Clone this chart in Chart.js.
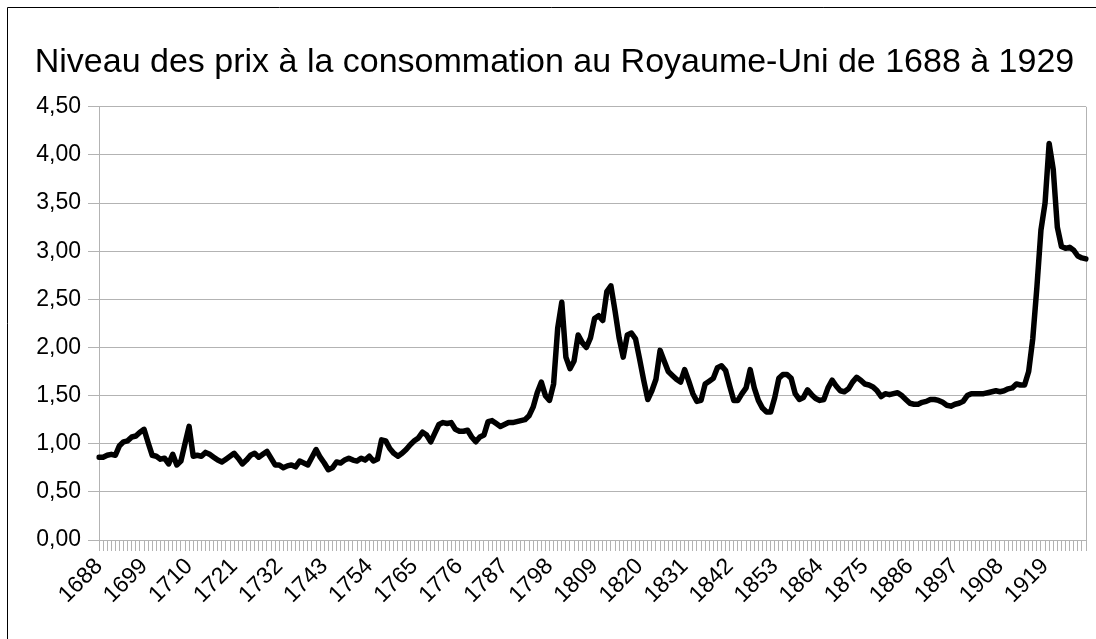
<!DOCTYPE html>
<html>
<head>
<meta charset="utf-8">
<script src="https://cdn.jsdelivr.net/npm/chart.js@4.4.1/dist/chart.umd.min.js"></script>
<style>
  html, body { margin: 0; padding: 0; background: #fff; }
  canvas { display: block; }
</style>
</head>
<body>
<canvas id="cpi" width="1096" height="639"></canvas>
<script>
var firstYear = 1688;
var lastYear = 1929;
var years = [];
for (var y = firstYear; y <= lastYear; y++) years.push(String(y));

// indice des prix (1688 -> 1929)
var prix = [
    0.86, 0.86, 0.88, 0.89, 0.88, 0.98, 1.02, 1.03, 1.07, 1.08, 1.12, 1.15,
    1.01, 0.88, 0.87, 0.84, 0.85, 0.79, 0.89, 0.78, 0.82, 1.00, 1.18, 0.87,
    0.88, 0.87, 0.91, 0.89, 0.86, 0.83, 0.81, 0.84, 0.87, 0.90, 0.85, 0.79,
    0.83, 0.88, 0.90, 0.86, 0.89, 0.92, 0.85, 0.78, 0.78, 0.75, 0.77, 0.78,
    0.76, 0.82, 0.80, 0.78, 0.86, 0.94, 0.86, 0.80, 0.73, 0.75, 0.81, 0.80,
    0.83, 0.85, 0.83, 0.82, 0.85, 0.83, 0.87, 0.82, 0.84, 1.04, 1.03, 0.95,
    0.90, 0.87, 0.90, 0.94, 0.99, 1.03, 1.06, 1.12, 1.09, 1.02, 1.11, 1.20,
    1.22, 1.21, 1.22, 1.15, 1.13, 1.13, 1.14, 1.07, 1.02, 1.07, 1.09, 1.23,
    1.24, 1.21, 1.18, 1.20, 1.22, 1.22, 1.23, 1.24, 1.25, 1.29, 1.38, 1.53,
    1.64, 1.50, 1.45, 1.62, 2.20, 2.47, 1.90, 1.78, 1.86, 2.13, 2.05, 2.00,
    2.10, 2.30, 2.33, 2.28, 2.58, 2.64, 2.38, 2.10, 1.90, 2.13, 2.15, 2.09,
    1.88, 1.66, 1.46, 1.55, 1.67, 1.97, 1.86, 1.75, 1.71, 1.67, 1.64, 1.77,
    1.65, 1.52, 1.44, 1.45, 1.62, 1.65, 1.68, 1.79, 1.81, 1.76, 1.60, 1.45,
    1.45, 1.52, 1.58, 1.77, 1.58, 1.45, 1.37, 1.33, 1.33, 1.48, 1.68, 1.72,
    1.72, 1.68, 1.52, 1.46, 1.48, 1.56, 1.51, 1.47, 1.45, 1.46, 1.58, 1.66,
    1.60, 1.55, 1.54, 1.57, 1.64, 1.69, 1.66, 1.62, 1.61, 1.59, 1.55, 1.49,
    1.52, 1.51, 1.52, 1.53, 1.50, 1.46, 1.42, 1.41, 1.41, 1.43, 1.44, 1.46,
    1.46, 1.45, 1.43, 1.40, 1.39, 1.41, 1.42, 1.44, 1.50, 1.52, 1.52, 1.52,
    1.52, 1.53, 1.54, 1.55, 1.54, 1.55, 1.57, 1.58, 1.62, 1.61, 1.61, 1.75,
    2.09, 2.62, 3.22, 3.50, 4.12, 3.85, 3.25, 3.05, 3.03, 3.04, 3.01, 2.95,
    2.93, 2.92
];

var labelEvery = 11;
var yMin = 0, yMax = 4.5, yStep = 0.5;

var grille = '#b3b3b3';
var police = 'Liberation Sans, Arial, sans-serif';

// fond blanc, cadre et bord droit de la zone de tracé
var decor = {
    id: 'decor',
    beforeDraw: function(chart) {
        var c = chart.ctx;
        c.save();
        c.fillStyle = '#fff';
        c.fillRect(0, 0, chart.width, chart.height);
        c.strokeStyle = '#000';
        c.lineWidth = 1;
        c.beginPath();
        c.moveTo(7.5, chart.height);
        c.lineTo(7.5, 7.5);
        c.lineTo(chart.width, 7.5);
        c.stroke();
        c.restore();
    },
    beforeDatasetsDraw: function(chart) {
        var a = chart.chartArea, c = chart.ctx;
        c.save();
        c.strokeStyle = grille;
        c.lineWidth = 1;
        c.beginPath();
        c.moveTo(Math.round(a.right) + 0.5, a.top);
        c.lineTo(Math.round(a.right) + 0.5, a.bottom);
        c.stroke();
        c.restore();
    }
};

var ctx = document.getElementById('cpi').getContext('2d');
var chart = new Chart(ctx, {
    type: 'line',
    data: {
        labels: years,
        datasets: [{
            data: prix,
            borderColor: '#000',
            borderWidth: 5.5,
            borderJoinStyle: 'round',
            borderCapStyle: 'round',
            pointRadius: 0,
            tension: 0,
            fill: false
        }]
    },
    options: {
        responsive: false,
        animation: false,
        devicePixelRatio: 1,
        layout: { padding: { left: 23, right: 10, top: 0, bottom: 0 } },
        plugins: {
            legend: { display: false },
            tooltip: { enabled: false },
            title: {
                display: true,
                text: 'Niveau des prix à la consommation au Royaume-Uni de 1688 à 1929',
                color: '#000',
                font: { family: police, size: 34, weight: 'normal' },
                padding: { top: 42, bottom: 24 }
            }
        },
        scales: {
            x: {
                offset: false,
                afterFit: function(s) {
                    s.height = 99;
                    s.paddingLeft = 0;
                    s.paddingRight = 0;
                },
                grid: {
                    drawOnChartArea: false,
                    drawTicks: true,
                    tickLength: 11,
                    color: grille
                },
                border: { color: grille },
                ticks: {
                    autoSkip: false,
                    minRotation: 45,
                    maxRotation: 45,
                    padding: 2,
                    color: '#000',
                    font: { family: police, size: 23 },
                    callback: function(v, i) { return i % labelEvery === 0 ? years[i] : ''; }
                }
            },
            y: {
                min: yMin,
                max: yMax,
                afterFit: function(s) { s.width = 76; },
                grid: { color: grille, tickLength: 11 },
                border: { color: grille },
                ticks: {
                    stepSize: yStep,
                    padding: 7,
                    color: '#000',
                    font: { family: police, size: 23 },
                    callback: function(v) { return v.toFixed(2).replace('.', ','); }
                }
            }
        }
    },
    plugins: [decor]
});
</script>
</body>
</html>
